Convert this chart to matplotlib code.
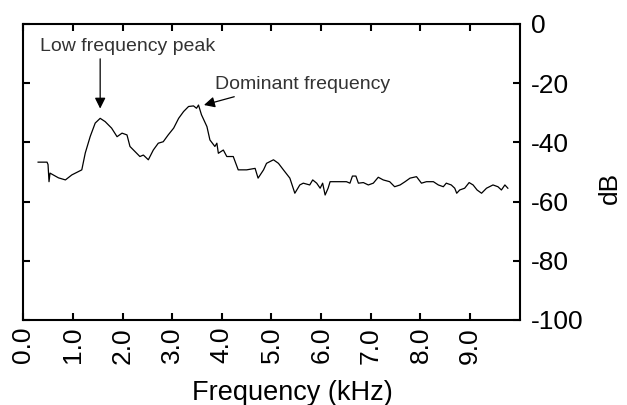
import matplotlib
matplotlib.use("Agg")
import matplotlib.pyplot as plt
import numpy as np

plt.rcParams['font.family'] = ['Liberation Sans', 'DejaVu Sans']
plt.rcParams['axes.unicode_minus'] = False

# spectrum (kHz, dB)
freq = [0.30, 0.48, 0.50, 0.52, 0.54, 0.71, 0.85, 0.98, 1.11, 1.18, 1.25, 1.35, 1.45, 1.55,
        1.65, 1.78, 1.89, 1.99, 2.09, 2.15, 2.25, 2.35, 2.42, 2.52, 2.62, 2.72, 2.82,
        2.92, 3.03, 3.13, 3.23, 3.33, 3.43, 3.49, 3.53, 3.59, 3.70, 3.76, 3.86, 3.90,
        3.93, 4.03, 4.10, 4.23, 4.33, 4.50, 4.67, 4.73, 4.84, 4.90, 5.04, 5.14, 5.24,
        5.37, 5.47, 5.57, 5.64, 5.77, 5.83, 5.91, 5.98, 6.03, 6.08, 6.14, 6.18, 6.31,
        6.51, 6.58, 6.63, 6.70, 6.75, 6.85, 6.95, 7.05, 7.15, 7.25, 7.38, 7.48, 7.59,
        7.69, 7.79, 7.92, 8.02, 8.12, 8.26, 8.36, 8.46, 8.52, 8.62, 8.69, 8.73, 8.79,
        8.89, 8.98, 9.06, 9.14, 9.23, 9.33, 9.46, 9.56, 9.63, 9.70, 9.76]
db = [-46.7, -46.7, -47.5, -53.3, -50.4, -52.0, -52.7, -51.0, -49.9, -49.3, -43.6, -38.0, -33.5, -31.9,
      -33.0, -35.2, -38.1, -36.9, -37.5, -41.4, -43.1, -44.8, -44.3, -45.9, -42.6, -40.3, -39.8,
      -37.5, -35.2, -31.9, -29.6, -27.9, -27.7, -28.5, -27.4, -30.7, -34.7, -39.2, -41.4, -40.3,
      -43.7, -42.6, -44.8, -44.8, -49.3, -49.3, -48.8, -52.1, -49.3, -47.1, -45.9, -47.1, -49.3,
      -52.1, -57.2, -54.4, -53.8, -54.4, -52.7, -53.8, -55.5, -53.8, -57.8, -55.5, -53.3, -53.3,
      -53.3, -53.8, -51.4, -51.4, -53.8, -53.6, -54.4, -53.8, -51.8, -52.7, -53.3, -55.0, -54.4,
      -53.3, -52.1, -51.6, -53.8, -53.3, -53.3, -54.4, -55.0, -53.8, -54.4, -55.5, -57.2, -56.1,
      -55.5, -53.6, -54.4, -56.1, -57.2, -55.5, -54.4, -55.0, -56.1, -54.4, -55.5]

xticks = [0, 1, 2, 3, 4, 5, 6, 7, 8, 9]
yticks = [0, -20, -40, -60, -80, -100]

fig = plt.figure(figsize=(6.27, 4.05), dpi=100)
ax = fig.add_axes([0.037, 0.21, 0.792, 0.731])

ax.plot(freq, db, color='black', lw=0.9)

ax.set_xlim(0, 10)
ax.set_ylim(-100, 0)
ax.set_xticks(xticks)
ax.set_xticklabels(['%.1f' % t for t in xticks], rotation=90, fontsize=19)
ax.set_yticks(yticks)
ax.yaxis.tick_right()
ax.tick_params(axis='both', direction='in', length=5, width=1.5, pad=5,
               top=True, bottom=True, left=True, right=True, labelsize=19)
ax.tick_params(axis='y', pad=8)
ax.yaxis.set_label_position('right')
ax.set_xlabel('Frequency (kHz)', fontsize=19.5)
ax.xaxis.set_label_coords(0.543, -0.203)
ax.set_ylabel('dB', fontsize=19)
ax.yaxis.set_label_coords(1.158, 0.446)
for s in ax.spines.values():
    s.set_linewidth(1.5)

# annotations
ax.text(0.34, -7.8, 'Low frequency peak', ha='left', va='center',
        fontsize=14, color='#333333')
ax.annotate('', xy=(1.55, -28.6), xytext=(1.55, -11.8),
            arrowprops=dict(arrowstyle='-|>', color='black', lw=0.9,
                            mutation_scale=16, shrinkA=0, shrinkB=0))
ax.text(3.87, -20.5, 'Dominant frequency', ha='left', va='center',
        fontsize=14, color='#333333')
ax.annotate('', xy=(3.64, -27.4), xytext=(4.25, -24.6),
            arrowprops=dict(arrowstyle='-|>', color='black', lw=0.9,
                            mutation_scale=16, shrinkA=0, shrinkB=0))

fig.savefig('out.png', dpi=100)
